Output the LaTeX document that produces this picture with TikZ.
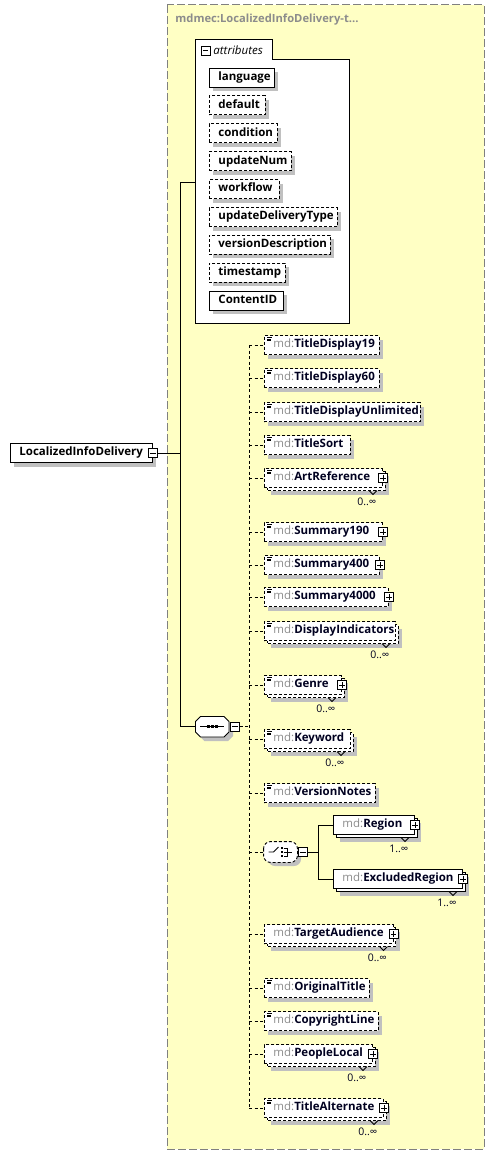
\documentclass[tikz,border=0pt]{standalone}
\usepackage{fontspec}
\setmainfont{Open Sans}
\usetikzlibrary{calc}
\definecolor{bgy}{RGB}{255,255,196}
\definecolor{shg}{RGB}{192,192,192}
\definecolor{mdg}{RGB}{140,140,140}
\definecolor{nm}{RGB}{0,0,32}
\definecolor{bord}{RGB}{128,128,128}
\newcommand\ef{\fontsize{11.5}{13}\selectfont}
\newcommand\tf{\fontsize{11.2}{13}\selectfont}
\newcommand\mf{\fontsize{10.5}{12}\selectfont}
\tikzset{
 elem/.style={draw, fill=white, inner sep=0pt, minimum height=19pt, text height=8.2pt, text depth=2.5pt, anchor=west, font=\ef, text=nm, line width=.9pt},
 opt/.style={dash pattern=on 3pt off 2pt},
 conn/.style={line width=.9pt},
 dconn/.style={line width=.9pt, dash pattern=on 3pt off 2.5pt},
 pmbox/.style={draw, fill=white, minimum size=9pt, inner sep=0pt, line width=.8pt},
 pmminus/.style={pmbox, path picture={\draw[line width=.8pt] ([xshift=-2.6pt]path picture bounding box.center) -- ([xshift=2.6pt]path picture bounding box.center);}},
 pmplus/.style={pmbox, path picture={\draw[line width=.8pt] ([xshift=-2.6pt]path picture bounding box.center) -- ([xshift=2.6pt]path picture bounding box.center) ([yshift=-2.6pt]path picture bounding box.center) -- ([yshift=2.6pt]path picture bounding box.center);}},
 multlab/.style={font=\mf, text=nm, inner sep=0pt},
}
% single element: name, x, y, width, style, label
\newcommand\el[6]{%
 \fill[shg] (#2+4,#3-5.5) rectangle (#2+#4+4,#3+13.5);
 \node[elem,#5] (#1) at (#2,#3) {\makebox[#4pt][l]{\hspace{9pt}{\color{mdg}md:}\textbf{#6}}};}
% repeated element (stacked boxes)
\newcommand\mel[6]{%
 \fill[shg] (#2+7,#3-2.5) rectangle (#2+#4+7,#3+16.5);
 \draw[line width=.9pt,#5,fill=white] (#2+3,#3-6.5) rectangle (#2+#4+3,#3+12.5);
 \draw[line width=.8pt] (#2+#4-13,#3+12.5) -- (#2+#4-9,#3+16.5) -- (#2+#4-5,#3+12.5);
 \node[elem,#5] (#1) at (#2,#3) {\makebox[#4pt][l]{\hspace{9pt}{\color{mdg}md:}\textbf{#6}}};}
% attribute
\newcommand\att[5]{%
 \fill[shg] (213,#2-5.5) rectangle (209+#3+4,#2+13.5);
 \node[elem,text=black,#4] (#1) at (209,#2) {\makebox[#3pt][l]{\hspace{9pt}\textbf{#5}}};}
\newcommand\ico[1]{\draw[line width=.6pt] ([xshift=3pt,yshift=-2pt]#1.north west) -- ++(5pt,0pt) ([xshift=3pt,yshift=-3.8pt]#1.north west) -- ++(4pt,0pt) ([xshift=3pt,yshift=-5.6pt]#1.north west) -- ++(4pt,0pt);}
\newcommand\pls[1]{\node[pmplus] (#1p) at (#1.east) {};}
\newcommand\mlt[2]{\node[multlab] (#1m) at ([xshift=-16pt,yshift=-24pt]#1.east) {#2};}
\begin{document}
\begin{tikzpicture}[x=1pt,y=-1pt,line width=.9pt]
\useasboundingbox (0,0) rectangle (495,1156);
% background group
\draw[bord, line width=1pt, dash pattern=on 8pt off 3pt, fill=bgy] (167,5) rectangle (484,1149);
\node[anchor=west, text=mdg, font=\tf\bfseries, inner sep=0pt] (title) at (175,20) {mdmec:LocalizedInfoDelivery-t...};
% attributes group
\draw[fill=white] (195,323) -- (195,39) -- (272,39) -- (272,59) -- (349,59) -- (349,323) -- cycle;
\node[inner sep=0pt, minimum width=154pt, minimum height=264pt, anchor=north west] (attrbox) at (195,59) {};
\node[pmminus] (attm) at (205.5,50.5) {};
\node[anchor=west, font=\ef\itshape, inner sep=0pt] (attl) at (213,50) {attributes};
\att{a1}{77.5}{65}{solid}{language}
\att{a2}{105.4}{56}{opt}{default}
\att{a3}{133.3}{68}{opt}{condition}
\att{a4}{161.2}{82}{opt}{updateNum}
\att{a5}{189.1}{70}{opt}{workflow}
\att{a6}{217}{128}{opt}{updateDeliveryType}
\att{a7}{244.9}{121}{opt}{versionDescription}
\att{a8}{272.8}{76}{opt}{timestamp}
\att{a9}{300.7}{74}{solid}{ContentID}
% main element
\fill[shg] (14,447.5) rectangle (156,466.5);
\node[elem,text=black] (main) at (10,453) {\makebox[142pt][l]{\hspace{9pt}\textbf{LocalizedInfoDelivery}}};
\node[pmminus] (mainm) at (main.east) {};
% sequence compositor
\fill[shg] (204.5,720.5) -- (228,720.5) -- (233,725.5) -- (233,736) -- (228,741) -- (204.5,741) -- (199.5,736) -- (199.5,725.5) -- cycle;
\node[inner sep=0pt, minimum width=33.5pt, minimum height=20.5pt] (seq) at (212.25,726.75) {};
\draw[fill=white] (200.5,716.5) -- (224,716.5) -- (229,721.5) -- (229,732) -- (224,737) -- (200.5,737) -- (195.5,732) -- (195.5,721.5) -- cycle;
\draw ([xshift=5pt]seq.west) -- ([xshift=-5pt]seq.east);
\foreach \dx in {-4,0,4} \fill ([xshift=\dx pt]seq.center) +(-1.4pt,-1.4pt) rectangle +(1.4pt,1.4pt);
\node[pmminus] (seqm) at ([xshift=5.5pt]seq.east) {};
% tree lines
\coordinate (ya) at (180.5,182);
\draw[conn] (mainm.east) -- (mainm.east -| ya);
\draw[conn] (attrbox.west |- ya) -- (ya) -- (seq.west -| ya) -- (seq.west);
% children
\el{c1}{264}{345}{115}{opt}{TitleDisplay19}\ico{c1}
\el{c2}{264}{378}{115}{opt}{TitleDisplay60}\ico{c2}
\el{c3}{264}{412}{156}{opt}{TitleDisplayUnlimited}\ico{c3}
\el{c4}{264}{445}{86}{opt}{TitleSort}\ico{c4}
\mel{c5}{264}{478}{118}{opt}{ArtReference}\ico{c5}\pls{c5}\mlt{c5}{0..∞}
\el{c6}{264}{532}{118}{opt}{Summary190}\ico{c6}\pls{c6}
\el{c7}{264}{565}{115}{opt}{Summary400}\ico{c7}\pls{c7}
\el{c8}{264}{597}{124}{opt}{Summary4000}\ico{c8}\pls{c8}
\mel{c9}{264}{631}{131}{opt}{DisplayIndicators}\ico{c9}\mlt{c9}{0..∞}
\mel{c10}{264}{685}{77}{opt}{Genre}\ico{c10}\pls{c10}\mlt{c10}{0..∞}
\mel{c11}{264}{739}{86}{opt}{Keyword}\ico{c11}\mlt{c11}{0..∞}
\el{c12}{264}{793}{111}{opt}{VersionNotes}\ico{c12}
% choice
\fill[shg, rounded corners=7pt] (268,846) rectangle (301,866);
\node[inner sep=0pt, minimum width=33pt, minimum height=20pt] (ch) at (280.5,852) {};
\draw[opt, fill=white, rounded corners=7pt] (ch.north west) rectangle (ch.south east);
\begin{scope}[shift={(ch.center)}]
 \draw[line width=.8pt] (-12,0) -- (-7,0) -- (-2,-5);
 \foreach \dy in {-4,0,4} \fill (1.5,\dy) +(-1.2pt,-1.2pt) rectangle +(1.2pt,1.2pt);
 \draw[line width=.8pt] (3,-4) -- (7,-4) -- (7,4) -- (3,4) (3,0) -- (11,0);
\end{scope}
\node[pmminus] (chm) at ([xshift=5.5pt]ch.east) {};
\mel{r1}{333}{825}{81}{solid}{Region}\pls{r1}\mlt{r1}{1..∞}
\mel{r2}{333}{879}{129}{solid}{ExcludedRegion}\pls{r2}\mlt{r2}{1..∞}
\coordinate (cj) at (318,852);
\draw[conn] (chm.east) -- (cj);
\draw[conn] (r1.west) -- (r1.west -| cj) -- (r2.west -| cj) -- (r2.west);
\mel{c14}{264}{934}{128.5}{opt}{TargetAudience}\pls{c14}\mlt{c14}{0..∞}
\el{c15}{264}{988}{105}{opt}{OriginalTitle}\ico{c15}
\el{c16}{264}{1021}{114}{opt}{CopyrightLine}\ico{c16}
\mel{c17}{264}{1054}{108}{opt}{PeopleLocal}\pls{c17}\mlt{c17}{0..∞}
\mel{c18}{264}{1108}{119}{opt}{TitleAlternate}\ico{c18}\pls{c18}\mlt{c18}{0..∞}
% sequence connectors
\coordinate (vtop) at (249,345);
\coordinate (vbot) at (249,1108);
\draw[dconn] (vtop) -- (vbot);
\draw[dconn] (seqm.east) -- (seqm.east -| vtop);
\foreach \n in {c1,c2,c3,c4,c5,c6,c7,c8,c9,c10,c11,c12,ch,c14,c15,c16,c17,c18}
 \draw[dconn] (\n.west -| vtop) -- (\n.west);
\end{tikzpicture}
\end{document}
